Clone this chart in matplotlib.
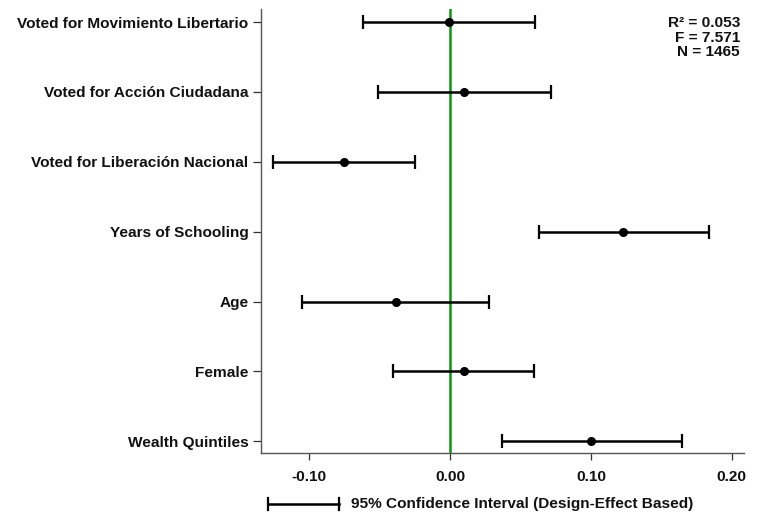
import matplotlib
matplotlib.use("Agg")
import matplotlib.pyplot as plt
from matplotlib.lines import Line2D

plt.rcParams['font.family'] = ['Liberation Sans', 'DejaVu Sans']
plt.rcParams['font.weight'] = 'bold'

# Regression coefficients with 95% confidence intervals (design-effect based)
variables = [
    "Voted for Movimiento Libertario",
    "Voted for Acción Ciudadana",
    "Voted for Liberación Nacional",
    "Years of Schooling",
    "Age",
    "Female",
    "Wealth Quintiles",
]
coef = [-0.001, 0.010, -0.075, 0.123, -0.0385, 0.0097, 0.100]
ci_low = [-0.0615, -0.0513, -0.1253, 0.0631, -0.105, -0.0404, 0.0369]
ci_high = [0.0603, 0.0716, -0.0251, 0.1835, 0.0277, 0.0596, 0.1643]

x_ticks = [-0.10, 0.00, 0.10, 0.20]
x_tick_labels = ["-0.10", "0.00", "0.10", "0.20"]
stats_text = "R² = 0.053\nF = 7.571\nN = 1465"
ci_label = "95% Confidence Interval (Design-Effect Based)"

FS = 11.1

fig = plt.figure(figsize=(7.59, 5.15), dpi=100)
ax = fig.add_axes([0.344, 0.120, 0.636, 0.863])

n = len(variables)
ypos = list(range(n, 0, -1))
xerr = [[c - lo for c, lo in zip(coef, ci_low)],
        [hi - c for c, hi in zip(coef, ci_high)]]

ax.axvline(0, color="#0a960a", lw=1.8, zorder=1)
ax.errorbar(coef, ypos, xerr=xerr, fmt="o", color="black", ms=5.5,
            elinewidth=1.8, capsize=4.8, capthick=1.6, zorder=3)

ax.set_xlim(-0.134, 0.2085)
ax.set_ylim(0.83, 7.19)
ax.set_yticks(ypos)
ax.set_yticklabels(variables, fontsize=FS, fontweight="bold", color="#111111")
ax.set_xticks(x_ticks)
ax.set_xticklabels(x_tick_labels, fontsize=FS, fontweight="bold", color="#111111")

for side in ("top", "right"):
    ax.spines[side].set_visible(False)
for side in ("left", "bottom"):
    ax.spines[side].set_color("#555555")
    ax.spines[side].set_linewidth(1.0)
ax.tick_params(axis="y", length=6, width=0.9, color="#333333", pad=3)
ax.tick_params(axis="x", length=5, width=0.9, color="#333333", pad=7)

ax.text(0.992, 0.983, stats_text, transform=ax.transAxes, ha="right", va="top",
        fontsize=FS, fontweight="bold", linespacing=1.05, color="#111111")

# Confidence-interval key below the axis
W, H = fig.get_size_inches() * fig.dpi
y0 = 1 - 504 / H
x0, x1 = 268 / W, 339 / W
cap = 6 / H
fig.add_artist(Line2D([x0, x1], [y0, y0], color="black", lw=1.8))
for xc in (x0, x1):
    fig.add_artist(Line2D([xc, xc], [y0 - cap, y0 + cap], color="black", lw=1.6))
fig.text(351 / W, y0, ci_label, ha="left", va="center", fontsize=FS,
         fontweight="bold", color="#111111")

fig.savefig("out.png", dpi=100)
